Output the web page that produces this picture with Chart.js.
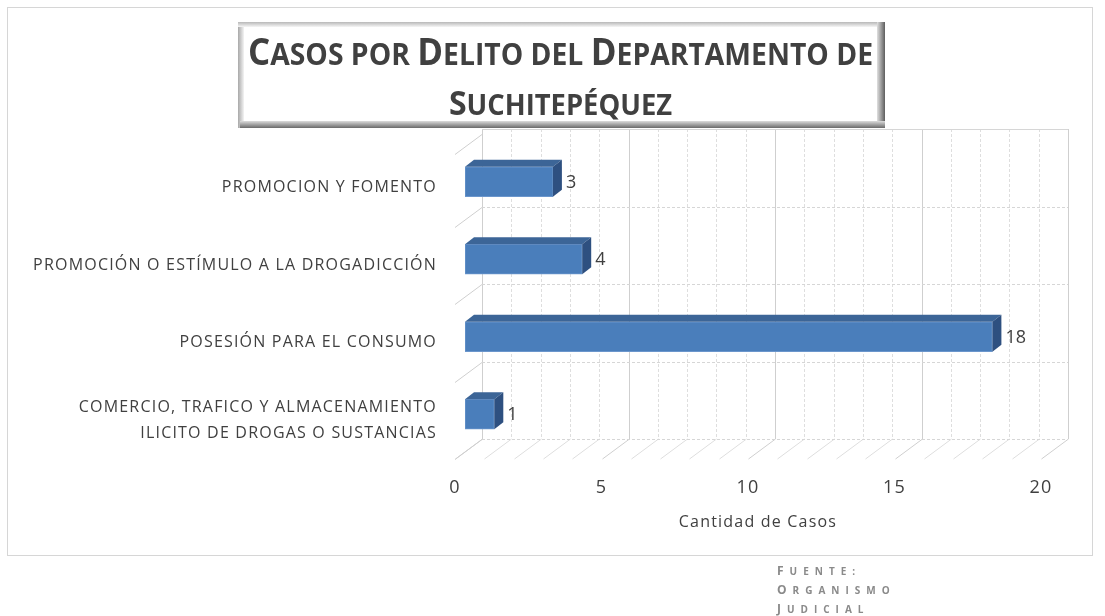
<!DOCTYPE html>
<html>
<head>
<meta charset="utf-8">
<script src="https://cdn.jsdelivr.net/npm/chart.js@4.4.0/dist/chart.umd.min.js"></script>
<style>
html, body { margin: 0; padding: 0; background: #fff; }
#wrap { width: 1105px; height: 616px; position: relative; }
</style>
</head>
<body>
<div id="wrap"><canvas id="delitos"></canvas></div>
<script>
// datos del grafico
var categorias = [
    'PROMOCION Y FOMENTO',
    'PROMOCIÓN O ESTÍMULO A LA DROGADICCIÓN',
    'POSESIÓN PARA EL CONSUMO',
    ['COMERCIO, TRAFICO Y ALMACENAMIENTO', 'ILICITO DE DROGAS O SUSTANCIAS']
];
var casos = [3, 4, 18, 1];
var ejeMin = 0, ejeMax = 20, ejePaso = 5;
var tituloEje = 'Cantidad de Casos';
var titulo = ['Casos por Delito del Departamento de', 'Suchitepéquez'];
var fuente = ['Fuente:', 'Organismo', 'Judicial'];

// profundidad del efecto 3D
var PARED = {dx: 17, dy: -14};
var PISO = {dx: -27, dy: 20};
var BARRA = {dx: 9, dy: -7};

function esMayuscula(c) {
    return c === c.toUpperCase() && c !== c.toLowerCase();
}

function anchoVersalitas(ctx, texto, grande, chica, familia, peso, espacio) {
    var total = 0;
    for (var i = 0; i < texto.length; i++) {
        var c = texto[i];
        ctx.font = peso + ' ' + (esMayuscula(c) ? grande : chica) + 'px ' + familia;
        total += ctx.measureText(c.toUpperCase()).width;
        if (i < texto.length - 1) total += espacio;
    }
    return total;
}

// versalitas dibujadas letra por letra, con escala horizontal opcional
function versalitas(ctx, texto, x, y, grande, chica, familia, peso, espacio, alinear, escala) {
    escala = escala || 1;
    var total = anchoVersalitas(ctx, texto, grande, chica, familia, peso, espacio) * escala;
    var px = alinear === 'center' ? x - total / 2 : x;
    ctx.save();
    ctx.translate(px, y);
    ctx.scale(escala, 1);
    ctx.textAlign = 'left';
    ctx.textBaseline = 'alphabetic';
    var cx = 0;
    for (var i = 0; i < texto.length; i++) {
        var c = texto[i];
        ctx.font = peso + ' ' + (esMayuscula(c) ? grande : chica) + 'px ' + familia;
        ctx.fillText(c.toUpperCase(), cx, 0);
        cx += ctx.measureText(c.toUpperCase()).width + espacio;
    }
    ctx.restore();
    return total;
}

var escena = {
    id: 'escena',
    beforeDraw: function (chart) {
        var ctx = chart.ctx;
        ctx.save();
        ctx.strokeStyle = '#d6d6d6';
        ctx.lineWidth = 1;
        ctx.strokeRect(7.5, 7.5, 1085, 548);
        ctx.restore();
        ctx.letterSpacing = '1.2px';
    },
    beforeDatasetsDraw: function (chart) {
        var ctx = chart.ctx;
        ctx.letterSpacing = '0px';
        var xs = chart.scales.x, ys = chart.scales.y, a = chart.chartArea;
        var paso = ys.getPixelForValue(1) - ys.getPixelForValue(0);
        var arriba = a.top + PARED.dy, abajo = a.bottom + PARED.dy;
        var x0 = xs.getPixelForValue(ejeMin) + PARED.dx;
        var x1 = xs.getPixelForValue(ejeMax) + PARED.dx;
        ctx.save();
        ctx.lineWidth = 1;
        // lineas verticales de la pared y del piso
        for (var v = ejeMin; v <= ejeMax; v++) {
            var x = Math.round(xs.getPixelForValue(v) + PARED.dx) + 0.5;
            var mayor = v % ejePaso === 0;
            ctx.strokeStyle = mayor ? '#cfcfcf' : '#dedede';
            ctx.setLineDash(mayor ? [] : [3, 2]);
            ctx.beginPath();
            ctx.moveTo(x, arriba);
            ctx.lineTo(x, abajo);
            ctx.stroke();
            ctx.setLineDash([]);
            ctx.beginPath();
            ctx.moveTo(x, abajo);
            ctx.lineTo(x + PISO.dx, abajo + PISO.dy);
            ctx.stroke();
        }
        // divisiones de categorias y pared izquierda
        for (var i = 0; i <= categorias.length; i++) {
            var y = Math.round(ys.getPixelForValue(i) - paso / 2 + PARED.dy) + 0.5;
            ctx.strokeStyle = '#d6d6d6';
            ctx.setLineDash(i === 0 ? [] : [3, 2]);
            ctx.beginPath();
            ctx.moveTo(x0, y);
            ctx.lineTo(x1, y);
            ctx.stroke();
            ctx.setLineDash([]);
            ctx.strokeStyle = '#cfcfcf';
            var yd = i === 0 ? y + 5 : y;
            ctx.beginPath();
            ctx.moveTo(x0, yd);
            ctx.lineTo(x0 + PISO.dx, yd + PISO.dy);
            ctx.stroke();
        }
        ctx.restore();
    },
    afterDatasetsDraw: function (chart) {
        var ctx = chart.ctx;
        var meta = chart.getDatasetMeta(0);
        ctx.save();
        meta.data.forEach(function (bar, i) {
            var h = bar.height, t = bar.y - h / 2, b = bar.y + h / 2;
            // cara superior
            ctx.fillStyle = '#3c6597';
            ctx.beginPath();
            ctx.moveTo(bar.base, t);
            ctx.lineTo(bar.x, t);
            ctx.lineTo(bar.x + BARRA.dx, t + BARRA.dy);
            ctx.lineTo(bar.base + BARRA.dx, t + BARRA.dy);
            ctx.closePath();
            ctx.fill();
            // cara lateral
            ctx.fillStyle = '#2e5080';
            ctx.beginPath();
            ctx.moveTo(bar.x, t);
            ctx.lineTo(bar.x + BARRA.dx, t + BARRA.dy);
            ctx.lineTo(bar.x + BARRA.dx, b + BARRA.dy);
            ctx.lineTo(bar.x, b);
            ctx.closePath();
            ctx.fill();
            // etiqueta
            ctx.fillStyle = '#404040';
            ctx.font = '18px "Open Sans"';
            ctx.textAlign = 'left';
            ctx.textBaseline = 'middle';
            ctx.fillText(String(casos[i]), bar.x + 13, bar.y + 1);
        });
        ctx.restore();
    },
    afterDraw: function (chart) {
        var ctx = chart.ctx;
        ctx.save();
        ctx.letterSpacing = '0px';
        // recuadro del titulo
        var bx = 238, by = 22, bw = 647, bh = 106;
        ctx.fillStyle = '#ffffff';
        ctx.fillRect(bx, by, bw, bh);
        var gi = ctx.createLinearGradient(bx, 0, bx + 6, 0);
        gi.addColorStop(0, '#a8a8a8');
        gi.addColorStop(1, '#f4f4f4');
        ctx.fillStyle = gi;
        ctx.fillRect(bx, by, 6, bh);
        var gs = ctx.createLinearGradient(0, by, 0, by + 5);
        gs.addColorStop(0, '#b8b8b8');
        gs.addColorStop(1, '#f6f6f6');
        ctx.fillStyle = gs;
        ctx.fillRect(bx, by, bw, 5);
        var gd = ctx.createLinearGradient(bx + bw - 8, 0, bx + bw, 0);
        gd.addColorStop(0, '#e0e0e0');
        gd.addColorStop(1, '#5e5e5e');
        ctx.fillStyle = gd;
        ctx.fillRect(bx + bw - 8, by, 8, bh);
        var gb = ctx.createLinearGradient(0, by + bh - 7, 0, by + bh);
        gb.addColorStop(0, '#dcdcdc');
        gb.addColorStop(1, '#6a6a6a');
        ctx.fillStyle = gb;
        ctx.fillRect(bx + 2, by + bh - 7, bw - 2, 7);

        var fam = '"Open Sans"';
        var natural = anchoVersalitas(ctx, titulo[0], 37, 30, fam, 'bold', 0);
        var escala = 625 / natural;
        ctx.fillStyle = '#404040';
        var cx = bx + bw / 2 - 1;
        versalitas(ctx, titulo[0], cx, 65, 37, 30, fam, 'bold', 0, 'center', escala);
        versalitas(ctx, titulo[1], cx, 115, 34, 29, fam, 'bold', 0, 'center', escala);

        // fuente
        ctx.fillStyle = '#8a8a8a';
        var lineas = [575, 594, 613];
        fuente.forEach(function (t, i) {
            versalitas(ctx, t, 777, lineas[i], 12, 10, fam, 'bold', 6, 'left');
        });
        ctx.restore();
    }
};

var ctx = document.getElementById('delitos');
var grafico = new Chart(ctx, {
    type: 'bar',
    data: {
        labels: categorias,
        datasets: [{
            label: tituloEje,
            data: casos,
            backgroundColor: '#4a7ebb',
            borderColor: '#6b96cc',
            borderWidth: 1,
            borderSkipped: false,
            barThickness: 30
        }]
    },
    options: {
        indexAxis: 'y',
        responsive: true,
        maintainAspectRatio: false,
        animation: false,
        layout: {padding: {left: 0, right: 54, top: 143, bottom: 80}},
        plugins: {
            legend: {display: false},
            tooltip: {enabled: false}
        },
        scales: {
            x: {
                min: ejeMin,
                max: ejeMax,
                grid: {display: false, drawTicks: false},
                border: {display: false},
                ticks: {
                    stepSize: ejePaso,
                    color: '#404040',
                    padding: 24,
                    labelOffset: -10,
                    font: {family: '"Open Sans"', size: 18}
                },
                title: {
                    display: true,
                    text: tituloEje,
                    color: '#404040',
                    font: {family: '"Open Sans"', size: 16}
                },
                afterFit: function (scale) { scale.height = 83; }
            },
            y: {
                grid: {display: false, drawTicks: false},
                border: {display: false},
                ticks: {
                    color: '#404040',
                    padding: 28,
                    labelOffset: 6,
                    font: {family: '"Open Sans"', size: 16, lineHeight: 1.6}
                },
                afterFit: function (scale) { scale.width = 465; }
            }
        }
    },
    plugins: [escena]
});
</script>
</body>
</html>
